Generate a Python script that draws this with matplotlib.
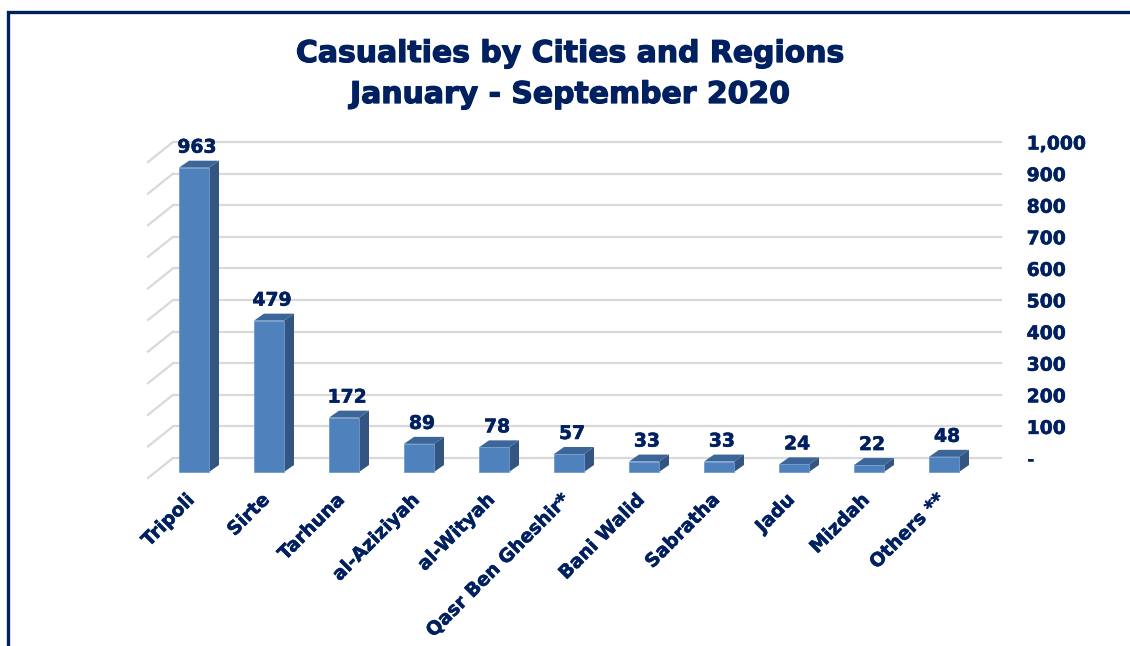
import numpy as np
import matplotlib
matplotlib.use("Agg")
from matplotlib import pyplot as plt
from matplotlib.patches import Polygon, Rectangle
from matplotlib import patheffects as pe

### DATA ###
cities = ["Tripoli", "Sirte", "Tarhuna", "al-Aziziyah", "al-Wityah", "Qasr Ben Gheshir*",
          "Bani Walid", "Sabratha", "Jadu", "Mizdah", "Others **"]
casualties = [963, 479, 172, 89, 78, 57, 33, 33, 24, 22, 48]
grid_values = list(range(0, 1001, 100))
title_lines = ["Casualties by Cities and Regions", "January - September 2020"]

### STYLE ###
navy = "#002060"
front_col = "#4f81bd"
top_col = "#3c659a"
side_col = "#34557f"
grid_col = "#d9d9d9"
heavy = [pe.withStroke(linewidth=0.9, foreground=navy)]
semi = [pe.withStroke(linewidth=0.4, foreground=navy)]

W, H = 1130, 646
fig = plt.figure(figsize=(W / 100, H / 100), dpi=100)

# axes box in pixels (left, top, right, bottom)
px_l, px_t, px_r, px_b = 130, 130, 1010, 490
ax = fig.add_axes([px_l / W, 1 - px_b / H, (px_r - px_l) / W, (px_b - px_t) / H])

# pixel scales for the pseudo-3d offsets
px_per_cat = 75.0
px_per_val = 0.316
x0_px, y0_px = 194, 472
ax.set_xlim((px_l - x0_px) / px_per_cat, (px_r - x0_px) / px_per_cat)
ax.set_ylim((y0_px - px_b) / px_per_val, (y0_px - px_t) / px_per_val)
for s in ax.spines.values():
    s.set_visible(False)

def dx(p):
    return p / px_per_cat

def dy(p):
    return p / px_per_val

x = np.arange(len(cities))
bw = dx(30)
depth_x, depth_y = dx(10), dy(7)
back_y = dy(14)

# back wall grid + left side wall diagonals
for v in grid_values:
    ax.plot([dx(-21), dx(807)], [v + back_y, v + back_y], color=grid_col, lw=1.6, zorder=1)
    ax.plot([dx(-46), dx(-21)], [v + back_y - dy(20), v + back_y], color=grid_col, lw=1.6, zorder=1)

# bars: front faces
ax.bar(x, casualties, width=bw, color=front_col, edgecolor="#6f9bd0", linewidth=0.6, zorder=3)
for xi, v in zip(x, casualties):
    side = Polygon([(xi + bw / 2, 0), (xi + bw / 2 + depth_x, depth_y),
                    (xi + bw / 2 + depth_x, v + depth_y), (xi + bw / 2, v)],
                   closed=True, facecolor=side_col, edgecolor="none", zorder=2)
    top = Polygon([(xi - bw / 2, v), (xi + bw / 2, v),
                   (xi + bw / 2 + depth_x, v + depth_y), (xi - bw / 2 + depth_x, v + depth_y)],
                  closed=True, facecolor=top_col, edgecolor="none", zorder=2)
    ax.add_patch(side)
    ax.add_patch(top)
    ax.text(xi + dx(3), v + depth_y + dy(4), f"{v:,}", ha="center", va="bottom",
            fontsize=13.5, fontweight="bold", color=navy, zorder=4, path_effects=semi)

# category labels
ax.set_xticks([])
for xi, name in zip(x, cities):
    ax.text(xi + dx(-9), dy(-18), name, rotation=45, rotation_mode="anchor",
            ha="right", va="top", fontsize=13.5, fontweight="bold", color=navy,
            path_effects=semi)

# right value axis (on the back plane)
ax.yaxis.tick_right()
ax.set_yticks([v + back_y for v in grid_values])
ax.set_yticklabels(["-" if v == 0 else f"{v:,}" for v in grid_values])
ax.tick_params(axis="y", length=0, pad=12, labelsize=13.5, labelcolor=navy)
for lab in ax.get_yticklabels():
    lab.set_fontweight("bold")
    lab.set_path_effects(semi)

for line, base_px in zip(title_lines, [62, 103]):
    fig.text(570 / W, 1 - base_px / H, line, ha="center", va="baseline",
             fontsize=21.5, fontweight="bold", color=navy, path_effects=heavy)

# frame around the chart
fig.add_artist(Rectangle((8.3 / W, -0.1), 1.2, (H - 11.7) / H + 0.1, transform=fig.transFigure,
                         fill=False, edgecolor=navy, linewidth=2.4))

fig.savefig("out.png", dpi=100)
